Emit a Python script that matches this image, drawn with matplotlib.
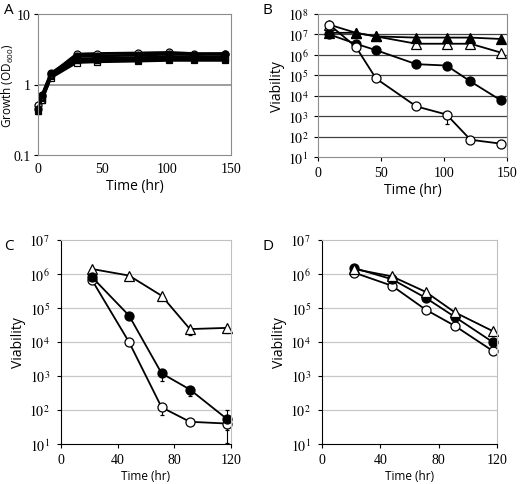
import matplotlib
matplotlib.use("Agg")
import matplotlib.pyplot as plt
import numpy as np

plt.rcParams['mathtext.fontset'] = 'stix'

# ---------------- data ----------------
# Panel A: growth (OD600)
t_a = [0, 3, 10, 30, 46, 78, 102, 121, 145]
a_open_circle = [0.52, 0.68, 1.40, 2.70, 2.75, 2.80, 2.85, 2.75, 2.75]
a_fill_circle = [0.45, 0.70, 1.45, 2.50, 2.55, 2.60, 2.70, 2.65, 2.70]
a_open_tri = [0.50, 0.60, 1.30, 2.30, 2.35, 2.40, 2.50, 2.45, 2.50]
a_fill_tri = [0.42, 0.65, 1.35, 2.20, 2.25, 2.25, 2.30, 2.30, 2.30]
a_open_sq = [0.48, 0.60, 1.25, 2.05, 2.10, 2.15, 2.20, 2.20, 2.20]
a_fill_sq = [0.42, 0.62, 1.40, 2.25, 2.20, 2.30, 2.35, 2.35, 2.40]

# Panel B: viability
t_b = [9, 30, 46, 78, 102, 121, 145]
b_fill_tri = [1.2e7, 1.2e7, 8e6, 7e6, 7e6, 7e6, 6e6]
b_open_tri = [3.0e7, 1.2e7, 8e6, 3.5e6, 3.5e6, 3.5e6, 1.3e6]
b_fill_circle = [1.0e7, 3.5e6, 1.7e6, 3.5e5, 3.0e5, 5e4, 6e3]
b_open_circle = [3.0e7, 2.5e6, 7e4, 3e3, 1.2e3, 70, 45]
b_open_circle_lo = [0, 0, 0, 0, 8e2, 0, 0]

# Panel C
t_c = [22, 48, 71, 91, 117]
c_open_tri = [1.4e6, 9e5, 2.3e5, 2.4e4, 2.6e4]
c_open_tri_lo = [0, 0, 0, 8e3, 8e3]
c_fill_circle = [8e5, 6e4, 1.2e3, 4e2, 55]
c_fill_circle_lo = [0, 0, 5e2, 1.5e2, 30]
c_fill_circle_hi = [0, 0, 0, 0, 45]
c_open_circle = [6.5e5, 1e4, 1.2e2, 45, 40]
c_open_circle_lo = [0, 0, 50, 0, 29]

# Panel D
t_d = [22, 48, 71, 91, 117]
d_open_tri = [1.4e6, 8.5e5, 3e5, 7.5e4, 2.1e4]
d_fill_circle = [1.5e6, 7e5, 2e5, 5.5e4, 1.0e4]
d_open_circle = [1.1e6, 4.5e5, 9e4, 3e4, 5.5e3]

# ---------------- figure ----------------
W, H = 520, 485
fig = plt.figure(figsize=(W / 100, H / 100), dpi=100)

def ax_px(l, r, t, b):
    return fig.add_axes([l / W, 1 - b / H, (r - l) / W, (b - t) / H])

SERIF = 'Liberation Serif'
SANS = 'Open Sans'

def decade_fmt(v, pos):
    e = int(round(np.log10(v)))
    return r'$10^{%d}$' % e

def line(ax, x, y, marker, filled, ms=6.5, lw=1.3, yerr=None, z=2):
    mfc = 'black' if filled else 'white'
    ax.errorbar(x, y, yerr=yerr, color='black', marker=marker, ms=ms,
                mfc=mfc, mec='black', mew=0.9, lw=lw, ecolor='black',
                elinewidth=0.8, capsize=1.5, zorder=z, clip_on=False)

grey = '#8c8c8c'

# ---- Panel A ----
axA = ax_px(38, 231, 15, 156)
axA.set_yscale('log')
axA.set_ylim(0.1, 10)
axA.set_xlim(0, 150)
axA.set_yticks([0.1, 1, 10])
axA.set_yticklabels(['0.1', '1', '10'], fontfamily=SERIF, fontsize=10)
axA.set_xticks([0, 50, 100, 150])
axA.set_xticklabels(['0', '50', '100', '150'], fontfamily=SERIF, fontsize=10)
axA.yaxis.set_minor_locator(matplotlib.ticker.NullLocator())
axA.axhline(1, color=grey, lw=1.2, zorder=1)
for s in axA.spines.values():
    s.set_color(grey)
axA.tick_params(colors='black', length=3, width=0.8, pad=2)
axA.tick_params(axis='x', length=0, pad=5)
line(axA, t_a, a_open_sq, 's', False, ms=5, lw=2.0)
line(axA, t_a, a_fill_sq, 's', True, ms=5, lw=2.0)
line(axA, t_a, a_open_tri, '^', False, ms=5, lw=2.0)
line(axA, t_a, a_fill_tri, '^', True, ms=5, lw=2.0)
line(axA, t_a, a_open_circle, 'o', False, ms=5, lw=2.0)
line(axA, t_a, a_fill_circle, 'o', True, ms=5, lw=2.0)
axA.set_xlabel('Time (hr)', fontfamily=SANS, fontsize=10, labelpad=2)
axA.set_ylabel(r'Growth (OD$\mathregular{_{600}}$)', fontfamily=SANS, fontsize=8.5)
axA.yaxis.set_label_coords((16 - 38) / 193, 0.5)

# ---- Panel B ----
axB = ax_px(318, 507, 15, 158)
axB.set_yscale('log')
axB.set_ylim(10, 1e8)
axB.set_xlim(0, 150)
axB.set_yticks([10 ** k for k in range(1, 9)])
axB.yaxis.set_major_formatter(matplotlib.ticker.FuncFormatter(decade_fmt))
axB.yaxis.set_minor_locator(matplotlib.ticker.NullLocator())
axB.set_xticks([0, 50, 100, 150])
axB.set_xticklabels(['0', '50', '100', '150'], fontfamily=SERIF, fontsize=10)
axB.tick_params(axis='y', labelsize=10, length=3, width=0.8, pad=4)
axB.tick_params(axis='x', length=3, width=0.8)
for k in range(2, 8):
    axB.axhline(10 ** k, color='#404040', lw=0.9, zorder=1)
for s in axB.spines.values():
    s.set_color(grey)
line(axB, t_b, b_open_tri, '^', False)
line(axB, t_b, b_fill_tri, '^', True)
line(axB, t_b, b_fill_circle, 'o', True)
line(axB, t_b, b_open_circle, 'o', False,
     yerr=[b_open_circle_lo, [0] * len(t_b)])
axB.set_xlabel('Time (hr)', fontfamily=SANS, fontsize=10, labelpad=2)
axB.set_ylabel('Viability', fontfamily=SANS, fontsize=10, labelpad=2)

# ---- Panels C and D ----
def viab_axes(l, r):
    ax = ax_px(l, r, 241, 445)
    ax.set_yscale('log')
    ax.set_ylim(10, 1e7)
    ax.set_xlim(0, 120)
    ax.set_yticks([10 ** k for k in range(1, 8)])
    ax.yaxis.set_major_formatter(matplotlib.ticker.FuncFormatter(decade_fmt))
    ax.yaxis.set_minor_locator(matplotlib.ticker.NullLocator())
    ax.set_xticks([0, 40, 80, 120])
    ax.set_xticklabels(['0', '40', '80', '120'], fontfamily=SERIF, fontsize=10)
    ax.tick_params(axis='y', labelsize=10, length=3, width=0.8, pad=5)
    ax.tick_params(axis='x', length=3, width=0.8)
    for k in range(2, 7):
        ax.axhline(10 ** k, color='#c8c8c8', lw=0.9, zorder=1)
    ax.spines['top'].set_color('#c0c0c0')
    ax.spines['right'].set_color('#c0c0c0')
    ax.spines['left'].set_color('black')
    ax.spines['bottom'].set_color('black')
    ax.set_xlabel('Time (hr)', fontfamily=SANS, fontsize=8.5, labelpad=2)
    ax.set_ylabel('Viability', fontfamily=SANS, fontsize=10, labelpad=2)
    return ax

axC = viab_axes(61, 231)
line(axC, t_c, c_open_tri, '^', False, yerr=[c_open_tri_lo, [0] * 5])
line(axC, t_c, c_open_circle, 'o', False, yerr=[c_open_circle_lo, [0] * 5])
line(axC, t_c, c_fill_circle, 'o', True, yerr=[c_fill_circle_lo, c_fill_circle_hi])

axD = viab_axes(322, 497)
line(axD, t_d, d_open_circle, 'o', False)
line(axD, t_d, d_fill_circle, 'o', True)
line(axD, t_d, d_open_tri, '^', False)

# panel letters
for letter, x, y in [('A', 4, 14), ('B', 262, 14), ('C', 4, 250), ('D', 262, 250)]:
    fig.text(x / W, 1 - y / H, letter, fontfamily=SANS, fontsize=11, va='baseline')

fig.savefig('out.png', dpi=100)
